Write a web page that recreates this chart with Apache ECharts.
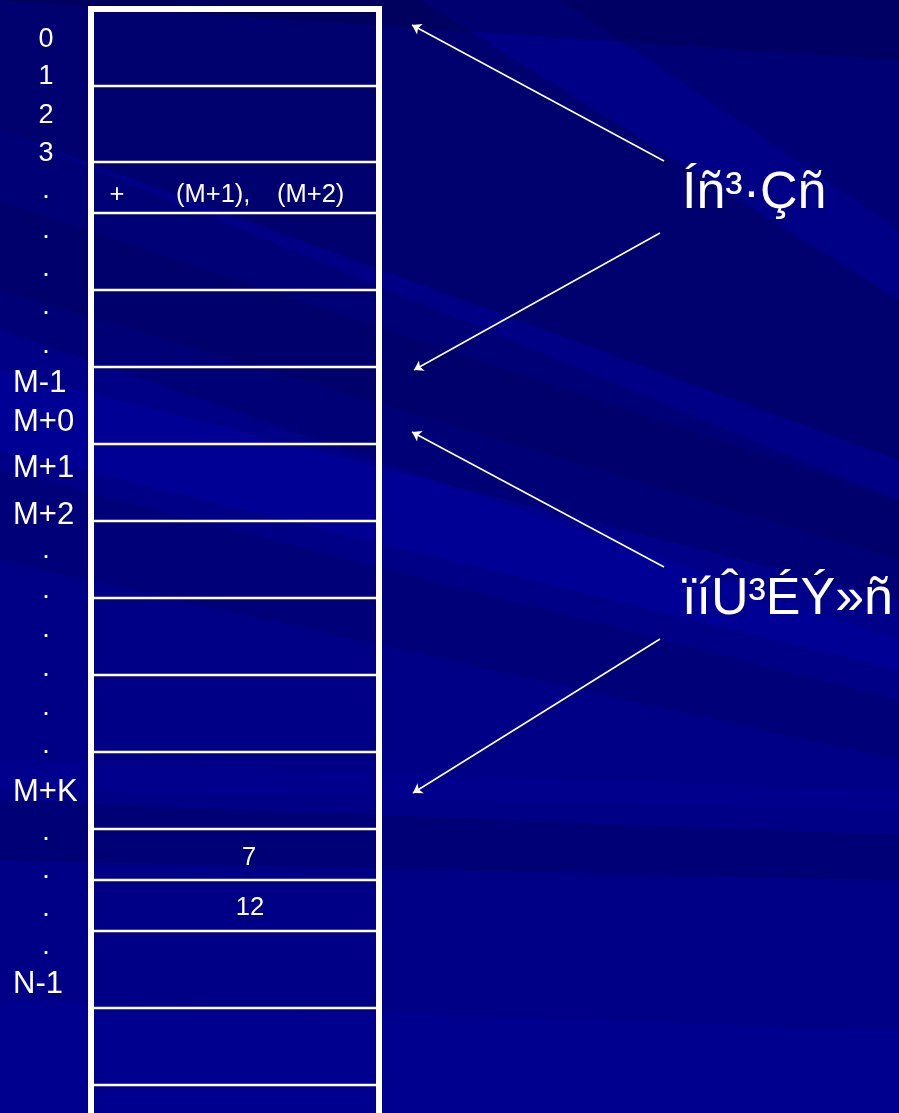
<!DOCTYPE html>
<html>
<head>
<meta charset="utf-8">
<script src="https://cdn.jsdelivr.net/npm/echarts@6/dist/echarts.min.js"></script>
<style>
  html, body { margin: 0; padding: 0; background: #000084; }
  #chart { width: 899px; height: 1113px; }
</style>
</head>
<body>
<div id="chart"></div>
<script>
// Memory slots: row dividers of the table (axis units = 1 per pixel row)
const rowEdges = [86, 162, 213, 290, 367, 444, 521, 598, 675, 752, 829, 880, 931, 1008, 1085]

// Index labels on the left, and where each sits
const indexLabels = ['0', '1', '2', '3', '.', '.', '.', '.', '.', 'M-1', 'M+0', 'M+1', 'M+2',
  '.', '.', '.', '.', '.', '.', 'M+K', '.', '.', '.', '.', 'N-1']
const indexY = [38, 75, 114, 152, 189, 229, 267, 305, 344, 381, 420, 466, 513,
  549, 589, 628, 667, 706, 744, 790, 831, 869, 907, 945, 982]

// Notes written inside cells
const cellNotes = ['+', '(M+1),', '(M+2)', '7', '12']
const cellNoteX = [117, 176, 277, 249, 250]
const cellNoteY = [193, 193, 193, 856, 906]
const cellNoteAlign = ['center', 'left', 'left', 'center', 'center']

// Callout titles and their arrows
const callouts = ['Íñ³·Çñ', 'ïíÛ³ÉÝ»ñ']
const calloutY = [192, 598]
const arrowFrom = [[664, 161], [660, 233], [664, 567], [660, 639]]
const arrowTo = [[412, 25], [414, 370], [412, 432], [413, 793]]

const FONT = '"Liberation Sans", Arial, sans-serif'
const boxLeft = 91
const boxRight = 379
const boxTop = 9
const textShift = 2

const chart = echarts.init(document.getElementById('chart'))

const textItem = (api, x, y, text, size, align) => {
  const p = api.coord([x, y + textShift])
  return {
    type: 'text',
    style: {
      text: text,
      x: p[0],
      y: p[1],
      fill: '#ffffff',
      fontSize: size,
      fontFamily: FONT,
      align: align,
      verticalAlign: 'middle'
    }
  }
}

// diagonal streaks of the slide background
const streak = (pts, color) => ({
  type: 'polygon',
  silent: true,
  z: -10,
  shape: { points: pts },
  style: { fill: color }
})

const dark = a => `rgba(0,0,50,${a})`
const light = a => `rgba(0,0,200,${a})`

const option = {
  backgroundColor: '#000086',
  animation: false,
  graphic: [
    streak([[0, 0], [899, 0], [899, 60], [0, 0]], dark(0.25)),
    streak([[560, 0], [899, 0], [899, 230]], dark(0.2)),
    streak([[0, 0], [420, 0], [899, 300], [899, 460], [0, 130]], dark(0.28)),
    streak([[0, 130], [0, 330], [899, 640], [899, 500]], dark(0.18)),
    streak([[0, 200], [0, 290], [899, 560], [899, 500]], dark(0.12)),
    streak([[0, 370], [0, 450], [899, 670], [899, 600]], light(0.22)),
    streak([[0, 470], [0, 560], [899, 760], [899, 700]], dark(0.15)),
    streak([[0, 800], [0, 860], [899, 880], [899, 835]], dark(0.18)),
    streak([[0, 760], [0, 790], [899, 810], [899, 790]], light(0.12)),
    streak([[0, 1000], [0, 1113], [899, 1113], [899, 1030]], light(0.14))
  ],
  grid: { left: 0, right: 0, top: 0, bottom: 0 },
  xAxis: { type: 'value', min: 0, max: 899, show: false },
  yAxis: { type: 'value', min: 0, max: 1113, inverse: true, show: false },
  series: [
    {
      // outer frame of the memory table
      type: 'custom',
      renderItem: (params, api) => {
        const tl = api.coord([boxLeft, boxTop])
        const tr = api.coord([boxRight, boxTop])
        const bl = api.coord([boxLeft, 1120])
        const br = api.coord([boxRight, 1120])
        return {
          type: 'polyline',
          shape: { points: [bl, tl, tr, br] },
          style: { stroke: '#ffffff', lineWidth: 6, fill: null, lineJoin: 'miter' }
        }
      },
      data: [[0]]
    },
    {
      // row dividers
      type: 'custom',
      renderItem: (params, api) => {
        const y = api.value(0)
        const p1 = api.coord([boxLeft, y])
        const p2 = api.coord([boxRight, y])
        return {
          type: 'line',
          shape: { x1: p1[0], y1: p1[1], x2: p2[0], y2: p2[1] },
          style: { stroke: '#ffffff', lineWidth: 2.5 }
        }
      },
      data: rowEdges.map(v => [v])
    },
    {
      // index labels
      type: 'custom',
      renderItem: (params, api) => {
        const label = indexLabels[params.dataIndex]
        const isLong = label.length > 1
        return textItem(api, isLong ? 13 : 46, api.value(0), label, isLong ? 31 : 27, isLong ? 'left' : 'center')
      },
      data: indexY.map(v => [v])
    },
    {
      // notes inside cells
      type: 'custom',
      renderItem: (params, api) => {
        const i = params.dataIndex
        return textItem(api, api.value(0), api.value(1), cellNotes[i], 25.5, cellNoteAlign[i])
      },
      data: cellNoteX.map((x, i) => [x, cellNoteY[i]])
    },
    {
      // callout titles
      type: 'custom',
      renderItem: (params, api) => {
        return textItem(api, 682, api.value(0), callouts[params.dataIndex], 52, 'left')
      },
      data: calloutY.map(v => [v])
    },
    {
      type: 'lines',
      coordinateSystem: 'cartesian2d',
      symbol: ['none', 'arrow'],
      symbolSize: 9,
      lineStyle: { color: '#ffffff', width: 1.6, opacity: 1 },
      data: arrowFrom.map((from, i) => ({ coords: [from, arrowTo[i]] }))
    }
  ]
}

chart.setOption(option)
</script>
</body>
</html>
